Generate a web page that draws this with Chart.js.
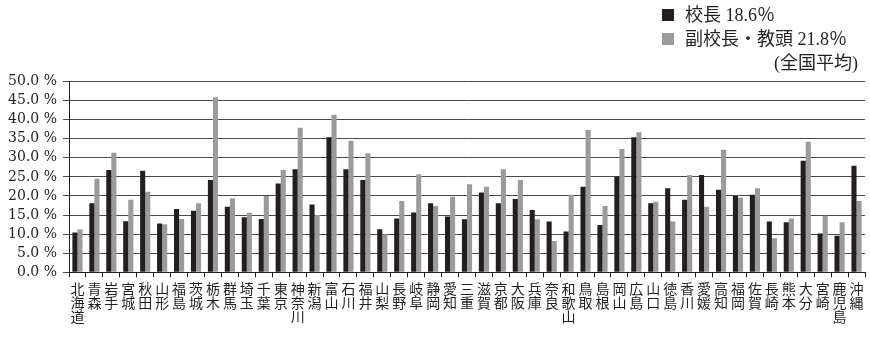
<!DOCTYPE html>
<html lang="ja">
<head>
<meta charset="utf-8">
<title>校長・副校長・教頭 女性比率（都道府県別）</title>
<script src="https://cdn.jsdelivr.net/npm/chart.js@4"></script>
<style>
  html, body { margin: 0; padding: 0; background: #fff; }
  #wrap { width: 870px; height: 340px; position: relative; }
</style>
</head>
<body>
<div id="wrap"><canvas id="c" width="870" height="340"></canvas></div>
<script>
// 都道府県（縦書き風に一文字ずつ改行して表示）
const prefectures = [
  '北海道','青森','岩手','宮城','秋田','山形','福島','茨城','栃木','群馬',
  '埼玉','千葉','東京','神奈川','新潟','富山','石川','福井','山梨','長野',
  '岐阜','静岡','愛知','三重','滋賀','京都','大阪','兵庫','奈良','和歌山',
  '鳥取','島根','岡山','広島','山口','徳島','香川','愛媛','高知','福岡',
  '佐賀','長崎','熊本','大分','宮崎','鹿児島','沖縄'
];

// 校長（%）
const principalRates = [
  10.4, 18.1, 26.8, 13.4, 26.6, 12.8, 16.6, 16.1, 24.2, 17.2,
  14.4, 14.0, 23.3, 27.0, 17.8, 35.4, 27.0, 24.2, 11.3, 14.1,
  15.7, 18.1, 14.6, 13.9, 20.9, 18.1, 19.2, 16.3, 13.3, 10.7,
  22.4, 12.4, 25.1, 35.4, 18.1, 22.0, 19.0, 25.5, 21.6, 20.0,
  20.3, 13.3, 13.1, 29.2, 10.2, 9.6, 27.9
];

// 副校長・教頭（%）
const viceRates = [
  11.3, 24.5, 31.3, 19.0, 21.1, 12.6, 14.0, 18.1, 45.9, 19.4,
  15.6, 20.0, 26.8, 37.9, 15.0, 41.3, 34.5, 31.2, 10.0, 18.7,
  25.7, 17.4, 19.8, 23.1, 22.4, 27.0, 24.2, 13.9, 8.2, 20.3,
  37.3, 17.4, 32.3, 36.7, 18.5, 13.3, 25.5, 17.2, 32.1, 19.6,
  22.0, 8.9, 14.1, 34.2, 14.8, 13.1, 18.7
];

// 全国平均（%）
const nationalAverages = [18.6, 21.8];
const seriesNames = ['校長', '副校長・教頭'];
const seriesColors = ['#231f20', '#9b9b9b'];

// y軸目盛り
const yTicks = [0, 5, 10, 15, 20, 25, 30, 35, 40, 45, 50];

const SERIF = '"Liberation Serif", "DejaVu Serif", "Noto Sans CJK JP", serif';

// 右上の凡例（全国平均つき）
const averageLegend = {
  id: 'averageLegend',
  afterDraw(chart) {
    const ctx = chart.ctx;
    ctx.save();
    ctx.textBaseline = 'middle';
    ctx.textAlign = 'left';
    ctx.font = '18px ' + SERIF;
    const rows = [15, 39];
    chart.data.datasets.forEach((ds, i) => {
      const y = rows[i];
      ctx.fillStyle = ds.backgroundColor;
      ctx.fillRect(662, y - 6, 12, 12);
      ctx.fillStyle = '#231f20';
      ctx.fillText(ds.label + ' ' + nationalAverages[i].toFixed(1) + '％', 685, y + 1);
    });
    ctx.textAlign = 'right';
    ctx.fillText('(全国平均)', 858, 64);
    ctx.restore();
  }
};

new Chart(document.getElementById('c'), {
  type: 'bar',
  data: {
    labels: prefectures.map(p => p.split('')),
    datasets: [
      { label: seriesNames[0], data: principalRates, backgroundColor: seriesColors[0] },
      { label: seriesNames[1], data: viceRates, backgroundColor: seriesColors[1] }
    ]
  },
  options: {
    responsive: false,
    animation: false,
    devicePixelRatio: 1,
    layout: { padding: { top: 81.5, right: 5, bottom: 0, left: 0 } },
    datasets: { bar: { categoryPercentage: 0.6, barPercentage: 1.0 } },
    plugins: {
      legend: { display: false },
      tooltip: { enabled: false }
    },
    scales: {
      x: {
        grid: {
          offset: true,
          drawOnChartArea: false,
          drawTicks: true,
          tickLength: 5,
          color: '#231f20'
        },
        border: { display: true, color: '#231f20', width: 1 },
        ticks: {
          autoSkip: false,
          maxRotation: 0,
          minRotation: 0,
          padding: 5,
          color: '#231f20',
          font: { family: '"Noto Sans CJK JP", sans-serif', size: 14, lineHeight: 0.97 }
        },
        afterFit(scale) { scale.height = 67.7; }
      },
      y: {
        min: 0,
        max: 50,
        afterBuildTicks(scale) { scale.ticks = yTicks.map(v => ({ value: v })); },
        grid: {
          color: '#4a4a4a',
          lineWidth: 1,
          tickLength: 6,
          drawTicks: true
        },
        border: { display: true, color: '#231f20', width: 1 },
        ticks: {
          autoSkip: false,
          padding: 6,
          color: '#231f20',
          font: { family: '"DejaVu Serif", serif', size: 14 },
          callback: v => v.toFixed(1) + ' %'
        },
        afterFit(scale) { scale.width = 69; }
      }
    }
  },
  plugins: [averageLegend]
});
</script>
</body>
</html>
